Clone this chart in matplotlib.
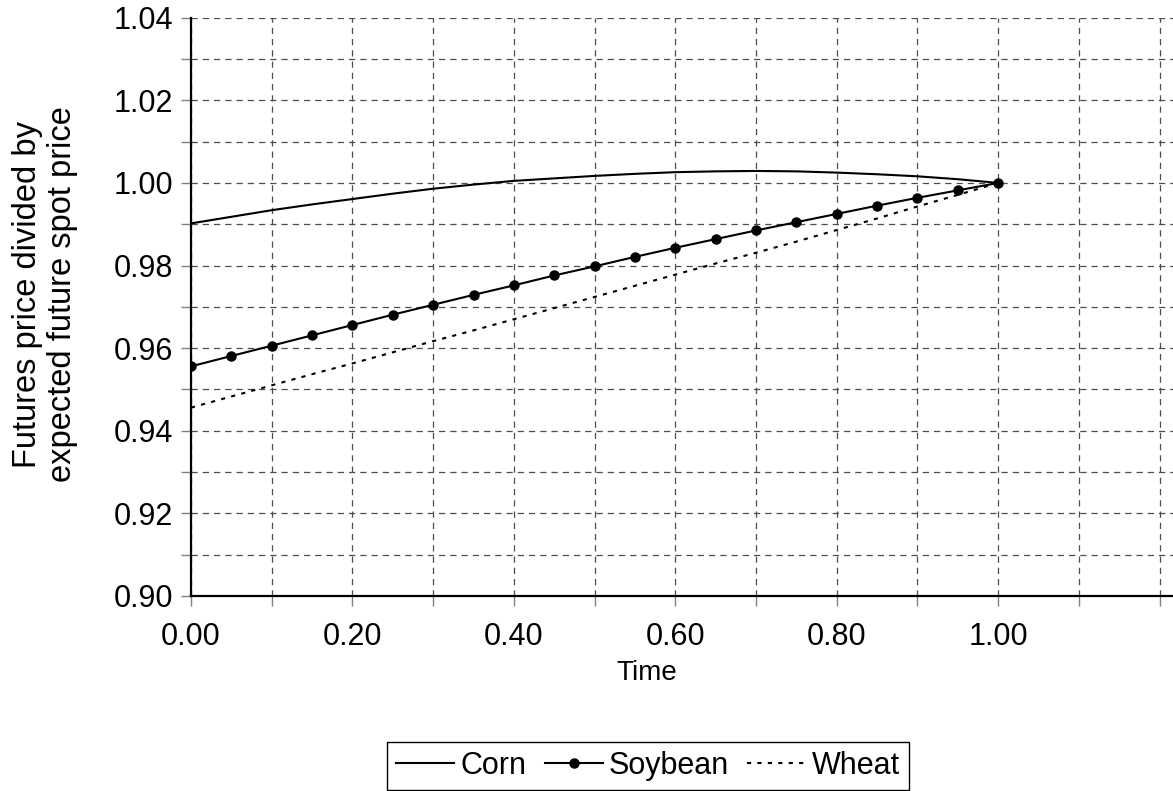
import numpy as np
import matplotlib
matplotlib.use("Agg")
import matplotlib.pyplot as plt
from matplotlib.ticker import MultipleLocator, FuncFormatter

plt.rcParams['font.family'] = ['Liberation Sans', 'DejaVu Sans']

# data, time step 0.05
time = [0.00, 0.05, 0.10, 0.15, 0.20, 0.25, 0.30, 0.35, 0.40, 0.45, 0.50,
        0.55, 0.60, 0.65, 0.70, 0.75, 0.80, 0.85, 0.90, 0.95, 1.00]
corn = [0.9902, 0.9918, 0.9934, 0.9948, 0.9961, 0.9974, 0.9986, 0.9996, 1.0005, 1.0011, 1.0017,
        1.0022, 1.0026, 1.0028, 1.0029, 1.0028, 1.0025, 1.0021, 1.0016, 1.0009, 1.0000]
soybean = [0.9556, 0.9581, 0.9606, 0.9631, 0.9656, 0.9681, 0.9705, 0.9729, 0.9752, 0.9776, 0.9798,
           0.9821, 0.9843, 0.9864, 0.9885, 0.9905, 0.9925, 0.9945, 0.9964, 0.9982, 1.0000]
wheat = [0.9456, 0.9483, 0.9510, 0.9537, 0.9563, 0.9590, 0.9617, 0.9643, 0.9670, 0.9697, 0.9724,
         0.9751, 0.9778, 0.9805, 0.9831, 0.9858, 0.9886, 0.9914, 0.9943, 0.9971, 1.0000]

fig = plt.figure(figsize=(11.73, 7.91), dpi=100)
ax = fig.add_axes([191/1173, 195/791, 1009/1173, 578.3/791])

ax.plot(time, corn, color='black', lw=1.5, label='Corn')
ax.plot(time, soybean, color='black', lw=1.5, marker='o', ms=6.5, label='Soybean')
ax.plot(time, wheat, color='black', lw=1.5, linestyle=(0, (2, 3)), label='Wheat')

ax.set_xlim(0, 1.25)
ax.set_ylim(0.90, 1.04)
ax.xaxis.set_major_locator(MultipleLocator(0.1))
ax.yaxis.set_major_locator(MultipleLocator(0.01))

def xfmt(v, pos):
    i = int(round(v * 10))
    return f"{v:.2f}" if i % 2 == 0 and i <= 10 else ""

def yfmt(v, pos):
    i = int(round(v * 100))
    return f"{v:.2f}" if i % 2 == 0 else ""

ax.xaxis.set_major_formatter(FuncFormatter(xfmt))
ax.yaxis.set_major_formatter(FuncFormatter(yfmt))
ax.tick_params(axis='both', labelsize=22, length=7, width=1, color='0.5', direction='out')
ax.tick_params(axis='x', pad=12)
ax.tick_params(axis='y', pad=6)

ax.grid(True, color='0.3', linestyle=(0, (5, 4)), linewidth=0.9)
ax.set_axisbelow(True)
for s in ['top', 'right']:
    ax.spines[s].set_visible(False)
for s in ['left', 'bottom']:
    ax.spines[s].set_linewidth(1.6)
    ax.spines[s].set_color('black')

ax.set_xlabel('Time', fontsize=20)
ax.xaxis.set_label_coords(0.452, -0.111)
ax.set_ylabel('Futures price divided by\nexpected future spot price', fontsize=23.5, linespacing=1.15)
ax.yaxis.set_label_coords(-0.112, 0.522)

leg = fig.legend(loc='center', bbox_to_anchor=(648/1173, 25/791), ncol=3, fontsize=22,
                 frameon=True, fancybox=False, edgecolor='black', framealpha=1,
                 handlelength=1.9, handletextpad=0.2, columnspacing=0.6, borderpad=0.3,
                 borderaxespad=0)
leg.get_frame().set_linewidth(1.0)

fig.savefig('out.png', dpi=100)
